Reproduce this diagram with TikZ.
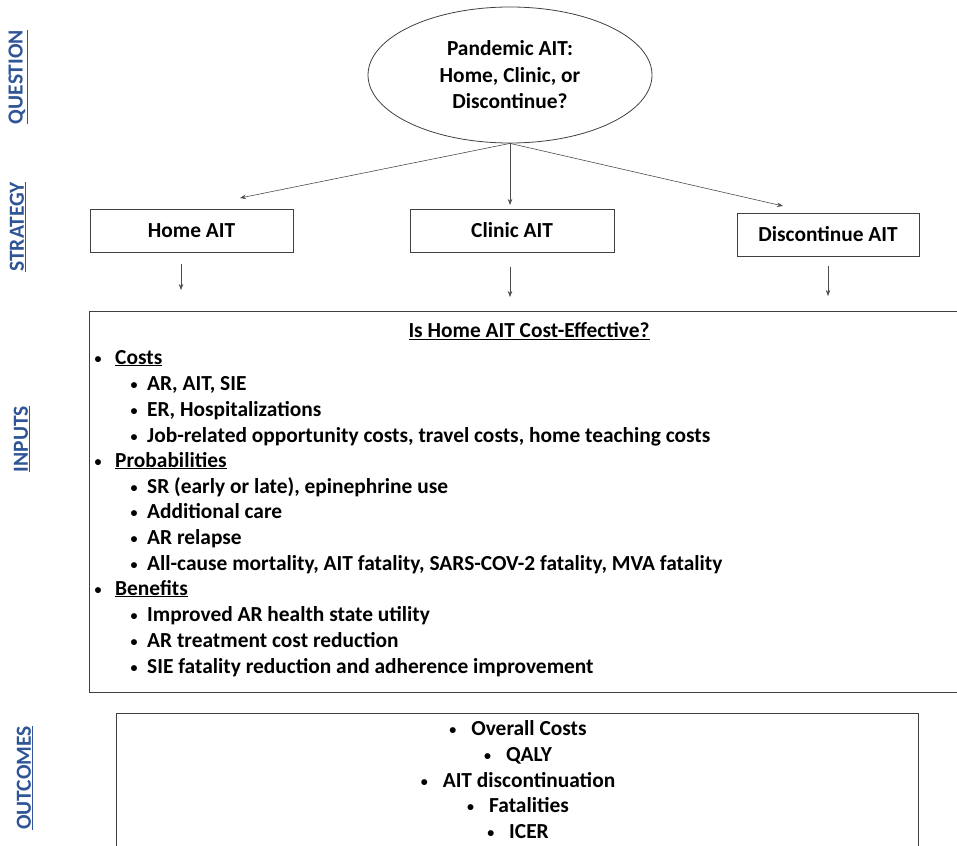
\documentclass[tikz,border=0pt]{standalone}
\usepackage{fontspec}
\setmainfont{Carlito}
\usetikzlibrary{shapes.geometric,arrows.meta}
\definecolor{sideblue}{HTML}{2F5597}
\definecolor{boxline}{HTML}{404040}
\newcommand{\smallbul}{\raisebox{0.6pt}{\fontsize{14}{14}\selectfont\textbullet}}
\tikzset{
  txt/.style={font=\fontsize{21.4}{25.8}\selectfont\bfseries, inner sep=0pt},
  lvlone/.style={txt, anchor=base west},
  bul/.style={txt, anchor=base},
  side/.style={font=\fontsize{21.5}{24}\selectfont\bfseries, text=sideblue, rotate=90, inner sep=0pt},
  frame/.style={draw=boxline, line width=0.8pt},
  arr/.style={draw=black!70, line width=0.6pt, -{Stealth[length=6pt,width=4.5pt]}},
}
\begin{document}
\begin{tikzpicture}[x=1pt,y=-1pt]
\useasboundingbox (0,0) rectangle (957,845);
\clip (0,0) rectangle (957,845);
% side labels
\node[side] (lq) at (18,77) {\underline{QUESTION}};
\node[side] (ls) at (18,227) {\underline{STRATEGY}};
\node[side] (li) at (22,439) {\underline{INPUTS}};
\node[side] (lo) at (25,778) {\underline{OUTCOMES}};
% question ellipse
\node[ellipse, frame, minimum width=284pt, minimum height=136pt, inner sep=0pt] (ell) at (510,75) {};
\node[txt, align=center, font=\fontsize{21.4}{26.5}\selectfont\bfseries] (qt) at (510,75) {Pandemic AIT:\\Home, Clinic, or\\Discontinue?};
% strategy boxes
\node[frame, txt, minimum width=203pt, minimum height=43pt] (home) at (191.5,230.5) {Home AIT};
\node[frame, txt, minimum width=204pt, minimum height=43pt] (clinic) at (512,230.5) {Clinic AIT};
\node[frame, txt, minimum width=182pt, minimum height=43pt] (disc) at (828,234.5) {Discontinue AIT};
% arrows from question
\coordinate (t1) at (240,198);
\coordinate (t2) at (510,205);
\coordinate (t3) at (783,206);
\draw[arr] (ell.south) -- (t1);
\draw[arr] (ell.south) -- (t2);
\draw[arr] (ell.south) -- (t3);
% short arrows below strategy boxes
\coordinate (a1s) at (181,264); \coordinate (a1e) at (181,290);
\coordinate (a2s) at (510,267); \coordinate (a2e) at (510,297);
\coordinate (a3s) at (828,266); \coordinate (a3e) at (828,296);
\draw[arr] (a1s) -- (a1e);
\draw[arr] (a2s) -- (a2e);
\draw[arr] (a3s) -- (a3e);
% inputs box
\node[frame, minimum width=880pt, minimum height=381pt, inner sep=0pt, anchor=north west] (inbox) at (89,311) {};
\node[txt] (intitle) at (529,331) {\underline{Is Home AIT Cost-Effective?}};
% items
\node[bul] (b1) at (98,364) {\smallbul};
\node[lvlone] (i1) at (115,364) {\underline{Costs}};
\node[bul] (b2) at (134,390) {\smallbul};
\node[lvlone] (i2) at (147,390) {AR, AIT, SIE};
\node[bul] (b3) at (134,416) {\smallbul};
\node[lvlone] (i3) at (147,416) {ER, Hospitalizations};
\node[bul] (b4) at (134,442) {\smallbul};
\node[lvlone] (i4) at (147,442) {Job-related opportunity costs, travel costs, home teaching costs};
\node[bul] (b5) at (98,467) {\smallbul};
\node[lvlone] (i5) at (115,467) {\underline{Probabilities}};
\node[bul] (b6) at (134,493) {\smallbul};
\node[lvlone] (i6) at (147,493) {SR (early or late), epinephrine use};
\node[bul] (b7) at (134,518) {\smallbul};
\node[lvlone] (i7) at (147,518) {Additional care};
\node[bul] (b8) at (134,544) {\smallbul};
\node[lvlone] (i8) at (147,544) {AR relapse};
\node[bul] (b9) at (134,570) {\smallbul};
\node[lvlone] (i9) at (147,570) {All-cause mortality, AIT fatality, SARS-COV-2 fatality, MVA fatality};
\node[bul] (b10) at (98,595) {\smallbul};
\node[lvlone] (i10) at (115,595) {\underline{Benefits}};
\node[bul] (b11) at (134,621) {\smallbul};
\node[lvlone] (i11) at (147,621) {Improved AR health state utility};
\node[bul] (b12) at (134,647) {\smallbul};
\node[lvlone] (i12) at (147,647) {AR treatment cost reduction};
\node[bul] (b13) at (134,673) {\smallbul};
\node[lvlone] (i13) at (147,673) {SIE fatality reduction and adherence improvement};
% outcomes box
\node[frame, minimum width=802pt, minimum height=200pt, inner sep=0pt, anchor=north west] (outbox) at (116,713) {};
\node[txt, anchor=base] (o1) at (518,735) {\smallbul\hspace{15pt}Overall Costs};
\node[txt, anchor=base] (o2) at (518,761) {\smallbul\hspace{15pt}QALY};
\node[txt, anchor=base] (o3) at (518,787) {\smallbul\hspace{15pt}AIT discontinuation};
\node[txt, anchor=base] (o4) at (518,812) {\smallbul\hspace{15pt}Fatalities};
\node[txt, anchor=base] (o5) at (518,838) {\smallbul\hspace{15pt}ICER};
\end{tikzpicture}
\end{document}
